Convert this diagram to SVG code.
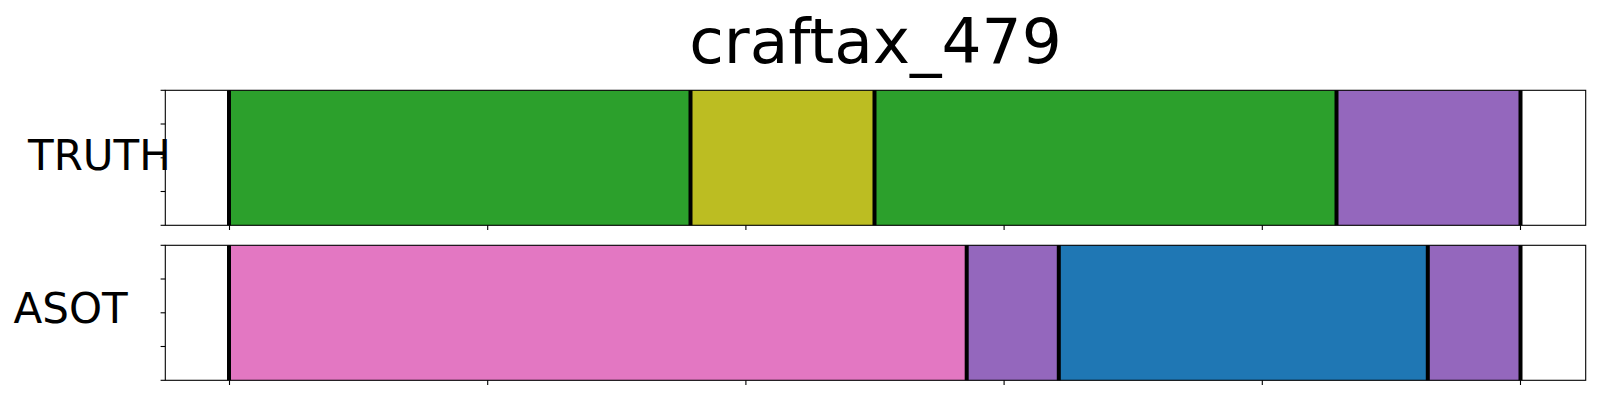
<svg xmlns="http://www.w3.org/2000/svg" width="1600" height="400" viewBox="0 0 1600 400">
<style>
text{font-family:"DejaVu Sans",sans-serif;fill:#000}
.spine{fill:none;stroke:#000;stroke-width:1.1}
.tick{stroke:#000;stroke-width:1.1}
.sep{stroke:#000;stroke-width:4}
.g{fill:#2ca02c}.y{fill:#bcbd22}.p{fill:#9467bd}.k{fill:#e377c2}.b{fill:#1f77b4}
</style>
<rect width="1600" height="400" fill="#fff"/>
<text x="875.5" y="62.7" font-size="63" text-anchor="middle">craftax_479</text>
<g id="truth">
<rect class="g" x="229" y="90.3" width="461" height="135"/>
<rect class="y" x="690" y="90.3" width="184.5" height="135"/>
<rect class="g" x="874.5" y="90.3" width="462" height="135"/>
<rect class="p" x="1336.5" y="90.3" width="184" height="135"/>
<g class="sep">
<line x1="229" y1="90.3" x2="229" y2="225.3"/>
<line x1="690.5" y1="90.3" x2="690.5" y2="225.3"/>
<line x1="874.5" y1="90.3" x2="874.5" y2="225.3"/>
<line x1="1336.5" y1="90.3" x2="1336.5" y2="225.3"/>
<line x1="1520.5" y1="90.3" x2="1520.5" y2="225.3"/>
</g>
<rect class="spine" x="165.3" y="90.3" width="1420.4" height="135"/>
<g class="tick">
<line x1="160.6" y1="90.3" x2="165.3" y2="90.3"/>
<line x1="160.6" y1="124" x2="165.3" y2="124"/>
<line x1="160.6" y1="157.8" x2="165.3" y2="157.8"/>
<line x1="160.6" y1="191.5" x2="165.3" y2="191.5"/>
<line x1="160.6" y1="225.3" x2="165.3" y2="225.3"/>
<line x1="229.5" y1="225.3" x2="229.5" y2="230"/>
<line x1="487.7" y1="225.3" x2="487.7" y2="230"/>
<line x1="745.9" y1="225.3" x2="745.9" y2="230"/>
<line x1="1004.1" y1="225.3" x2="1004.1" y2="230"/>
<line x1="1262.3" y1="225.3" x2="1262.3" y2="230"/>
<line x1="1520.5" y1="225.3" x2="1520.5" y2="230"/>
</g>
<text x="28" y="170" font-size="42">TRUTH</text>
</g>
<g id="asot">
<rect class="k" x="229" y="245.3" width="737.5" height="135"/>
<rect class="p" x="966.5" y="245.3" width="92.5" height="135"/>
<rect class="b" x="1059" y="245.3" width="369" height="135"/>
<rect class="p" x="1428" y="245.3" width="92.5" height="135"/>
<g class="sep">
<line x1="229" y1="245.3" x2="229" y2="380.3"/>
<line x1="966.7" y1="245.3" x2="966.7" y2="380.3"/>
<line x1="1058.8" y1="245.3" x2="1058.8" y2="380.3"/>
<line x1="1427.8" y1="245.3" x2="1427.8" y2="380.3"/>
<line x1="1520.5" y1="245.3" x2="1520.5" y2="380.3"/>
</g>
<rect class="spine" x="165.3" y="245.3" width="1420.4" height="135"/>
<g class="tick">
<line x1="160.6" y1="245.3" x2="165.3" y2="245.3"/>
<line x1="160.6" y1="279" x2="165.3" y2="279"/>
<line x1="160.6" y1="312.8" x2="165.3" y2="312.8"/>
<line x1="160.6" y1="346.5" x2="165.3" y2="346.5"/>
<line x1="160.6" y1="380.3" x2="165.3" y2="380.3"/>
<line x1="229.5" y1="380.3" x2="229.5" y2="385"/>
<line x1="487.7" y1="380.3" x2="487.7" y2="385"/>
<line x1="745.9" y1="380.3" x2="745.9" y2="385"/>
<line x1="1004.1" y1="380.3" x2="1004.1" y2="385"/>
<line x1="1262.3" y1="380.3" x2="1262.3" y2="385"/>
<line x1="1520.5" y1="380.3" x2="1520.5" y2="385"/>
</g>
<text x="13.5" y="323.3" font-size="42">ASOT</text>
</g>
</svg>
